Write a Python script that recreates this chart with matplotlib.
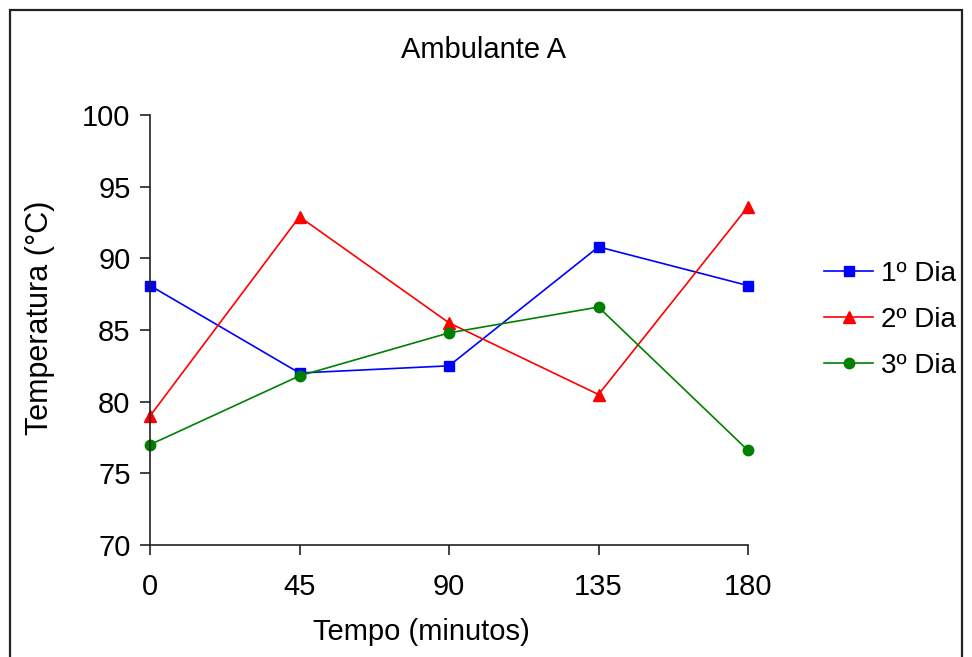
import matplotlib.pyplot as plt
from matplotlib.patches import Rectangle

# Data
tempo = [0, 45, 90, 135, 180]
dia1 = [88.1, 82.0, 82.5, 90.8, 88.1]
dia2 = [79.0, 92.9, 85.5, 80.5, 93.6]
dia3 = [77.0, 81.8, 84.8, 86.6, 76.6]
labels = ["1º Dia", "2º Dia", "3º Dia"]

plt.rcParams["font.family"] = ["Liberation Sans", "DejaVu Sans"]

fig = plt.figure(figsize=(9.72, 6.57), dpi=100)
ax = fig.add_axes([150 / 972, 1 - 545 / 657, 598 / 972, 430 / 657])

ax.plot(tempo, dia1, color="#0000FF", lw=1.2, marker="s", ms=7.5, label=labels[0], clip_on=False)
ax.plot(tempo, dia2, color="#FF0000", lw=1.2, marker="^", ms=9, label=labels[1], clip_on=False)
ax.plot(tempo, dia3, color="#008000", lw=1.2, marker="o", ms=7.5, label=labels[2], clip_on=False)

ax.set_xlim(0, 180)
ax.set_ylim(70, 100)
ax.set_xticks(tempo)
ax.set_yticks(range(70, 101, 5))
ax.spines["top"].set_visible(False)
ax.spines["right"].set_visible(False)
for s in ("left", "bottom"):
    ax.spines[s].set_linewidth(1.2)
    ax.spines[s].set_color("#222222")
ax.tick_params(axis="both", direction="out", length=7, width=1.2, color="#222222",
               labelsize=21, pad=7)
ax.tick_params(axis="x", pad=13)

fig.text(483 / 972, 1 - 50 / 657, "Ambulante A", ha="center", va="center", fontsize=21)
fig.text(421 / 972, 1 - 632 / 657, "Tempo (minutos)", ha="center", va="center", fontsize=21)
fig.text(40 / 972, 1 - 318 / 657, "Temperatura (°C)", ha="center", va="center",
         rotation=90, fontsize=22)

ax.legend(loc="center left", bbox_to_anchor=(805 / 972, 1 - 320 / 657),
          bbox_transform=fig.transFigure, frameon=False, fontsize=20,
          handlelength=1.75, labelspacing=0.72, handletextpad=0.3, borderpad=0.2)

# outer border like the spreadsheet chart area
fig.patches.append(Rectangle((10 / 972, -0.05), 952 / 972, 1.05 - 10 / 657,
                             transform=fig.transFigure, fill=False,
                             edgecolor="#222222", lw=1.6))

fig.savefig("out.png", dpi=100)
